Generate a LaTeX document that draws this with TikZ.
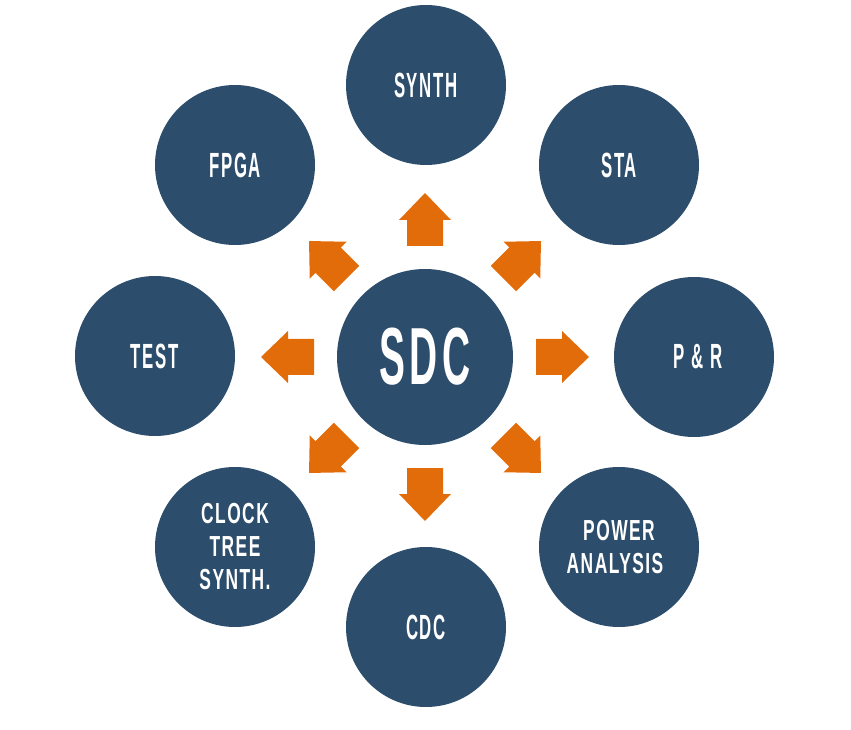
\documentclass[tikz,border=0pt]{standalone}
\usepackage{fontspec}
\newfontfamily\condA[FakeStretch=0.48,LetterSpace=5]{Liberation Sans Bold}
\newfontfamily\condB[FakeStretch=0.60,LetterSpace=5]{Liberation Sans Bold}
\definecolor{navy}{HTML}{2C4D6B}
\definecolor{orng}{HTML}{E36C0A}
\begin{document}
\begin{tikzpicture}[x=1pt,y=1pt,
  hub/.style={circle, fill=navy, minimum size=176pt, inner sep=0pt, text=white,
    font=\condA\fontsize{81}{81}\selectfont},
  sat/.style={circle, fill=navy, minimum size=160pt, inner sep=0pt, text=white,
    font=\condA\fontsize{35}{35}\selectfont},
  satm/.style={sat, align=center, font=\condB\fontsize{29}{33}\selectfont},
  blockarrow/.style={fill=orng}]
\useasboundingbox (0,0) rectangle (851,729);
\node[hub] (sdc) at (425,372) {SDC};
\node[sat] (synth) at (426,644) {SYNTH};
\node[sat] (sta) at (619,564) {STA};
\node[sat] (pr) at (694,372) {\kern8pt P \& R};
\node[satm] (power) at (619,182) {POWER\\ANALYSIS\kern8pt};
\node[sat] (cdc) at (426,102) {CDC};
\node[satm] (cts) at (235,182) {CLOCK\\TREE\\SYNTH.};
\node[sat] (test) at (155,373) {TEST};
\node[sat] (fpga) at (235,564) {FPGA};
\foreach \n/\a in {synth/90, sta/45, pr/0, power/-45, cdc/-90, cts/-135, test/180, fpga/135}
  \fill[blockarrow, shift={(sdc.center)}, rotate=\a]
    (111,-18) -- (137,-18) -- (137,-26) -- (164,0) -- (137,26) -- (137,18) -- (111,18) -- cycle;
\end{tikzpicture}
\end{document}
